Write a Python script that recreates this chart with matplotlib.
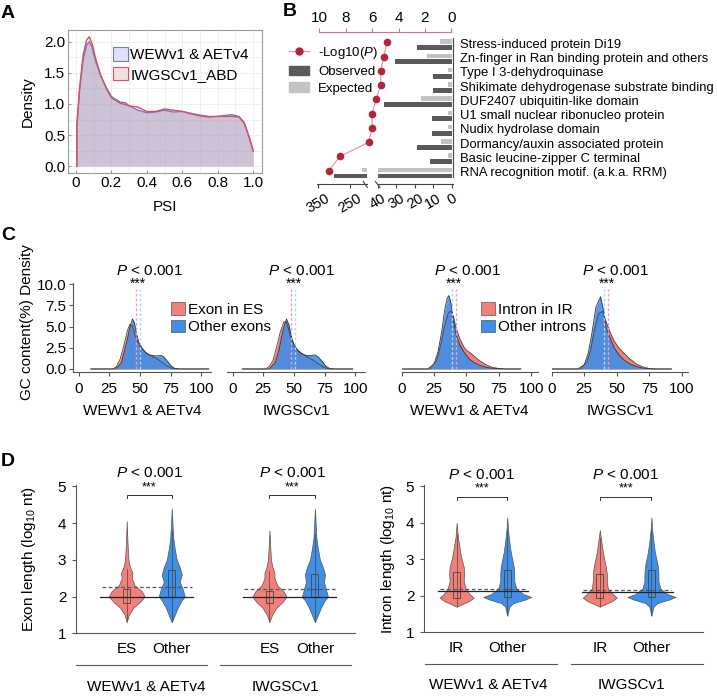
import numpy as np
import matplotlib
matplotlib.use('Agg')
import matplotlib.pyplot as plt
from matplotlib.patches import Patch, Rectangle
from matplotlib.lines import Line2D

plt.rcParams['font.family'] = ['Liberation Sans', 'DejaVu Sans']
plt.rcParams['mathtext.fontset'] = 'custom'
plt.rcParams['mathtext.rm'] = 'Liberation Sans'
plt.rcParams['mathtext.it'] = 'Liberation Sans:italic'

W, H = 717, 697

# ---- A: PSI density
psi_x = [0.005, 0.02, 0.04, 0.06, 0.075, 0.09, 0.11, 0.14, 0.17, 0.2, 0.25, 0.28, 0.3, 0.35, 0.4,
         0.45, 0.5, 0.55, 0.6, 0.65, 0.7, 0.75, 0.8, 0.85, 0.88, 0.92, 0.95, 0.98, 1.0]
psi_wew = [0.65, 1.2, 1.7, 1.95, 2.0, 1.92, 1.7, 1.45, 1.27, 1.12, 1.03, 1.02, 0.97, 0.9, 0.86,
           0.87, 0.9, 0.87, 0.88, 0.85, 0.82, 0.8, 0.8, 0.82, 0.83, 0.8, 0.7, 0.45, 0.25]
psi_iwgsc = [0.65, 1.25, 1.78, 2.03, 2.08, 1.98, 1.74, 1.46, 1.26, 1.1, 1.01, 0.99, 0.97, 0.95, 0.88,
             0.88, 0.92, 0.9, 0.88, 0.84, 0.81, 0.79, 0.8, 0.8, 0.8, 0.79, 0.69, 0.44, 0.24]

# ---- B: domain enrichment
domains = ['Stress-induced protein Di19', 'Zn-finger in Ran binding protein and others',
           'Type I 3-dehydroquinase', 'Shikimate dehydrogenase substrate binding',
           'DUF2407 ubiquitin-like domain', 'U1 small nuclear ribonucleo protein',
           'Nudix hydrolase domain', 'Dormancy/auxin associated protein',
           'Basic leucine-zipper C terminal', 'RNA recognition motif. (a.k.a. RRM)']
log_p = [4.9, 5.1, 5.35, 5.35, 5.7, 6.0, 6.0, 6.26, 8.43, 9.3]
observed = [18.6, 31, 10, 10, 37, 10.9, 10.9, 19, 11.8, 300]
expected = [6.6, 13.6, 2, 2, 16.8, 2, 2, 5.7, 2, 213]

# ---- C: GC content densities
c1_x_es = [10, 28, 31, 34, 37, 40, 42, 44, 46, 48, 50, 53, 56, 60, 64, 68, 72, 76, 80, 106]
c1_y_es = [0, 0, 0.3, 1.2, 2.8, 4.6, 5.3, 5.0, 4.0, 3.2, 2.7, 2.2, 1.8, 1.5, 1.2, 0.8, 0.35, 0.1, 0, 0]
c1_x_oth = [10, 30, 35, 38, 40, 42, 44, 45.5, 47, 49, 52, 55, 58, 62, 65, 67, 69, 72, 75, 78, 82, 106]
c1_y_oth = [0, 0, 0.7, 2.5, 3.6, 5.0, 5.9, 5.5, 4.3, 3.2, 2.4, 1.9, 1.65, 1.55, 1.55, 1.6, 1.5, 1.0, 0.45, 0.1, 0, 0]
c2_x_es = [8, 27, 30, 33, 36, 39, 42, 44, 46, 48, 51, 55, 60, 65, 70, 75, 79, 98]
c2_y_es = [0, 0, 0.3, 1.0, 2.6, 4.4, 5.6, 5.5, 4.5, 3.4, 2.6, 2.0, 1.5, 1.1, 0.6, 0.15, 0, 0]
c2_x_oth = [8, 30, 35, 38, 41, 44, 46, 48, 50, 53, 56, 60, 64, 67, 70, 73, 76, 79, 83, 98]
c2_y_oth = [0, 0, 0.8, 2.3, 4.5, 5.9, 5.2, 3.8, 2.9, 2.2, 1.8, 1.6, 1.6, 1.65, 1.4, 0.9, 0.35, 0.08, 0, 0]
c3_x_ir = [0, 22, 27, 30, 33, 36, 38, 40, 42, 45, 48, 50, 53, 56, 60, 65, 70, 75, 80, 92]
c3_y_ir = [0, 0, 1.0, 2.8, 5.0, 6.6, 6.9, 6.2, 4.8, 3.5, 2.6, 2.2, 1.9, 1.5, 1.0, 0.5, 0.2, 0.06, 0, 0]
c3_x_oth = [0, 20, 25, 28, 31, 33, 35, 36.5, 38, 40, 42, 45, 48, 52, 56, 60, 65, 70, 80, 92]
c3_y_oth = [0, 0, 0.6, 2.0, 4.5, 6.8, 8.3, 8.66, 7.8, 5.6, 4.0, 2.8, 2.0, 1.2, 0.75, 0.45, 0.2, 0.08, 0, 0]
c4_x_ir = [0, 22, 27, 30, 33, 36, 39, 42, 45, 48, 52, 56, 60, 65, 70, 75, 80, 92]
c4_y_ir = [0, 0, 0.8, 2.3, 4.7, 6.5, 6.8, 5.5, 4.3, 3.3, 2.4, 1.8, 1.2, 0.6, 0.25, 0.05, 0, 0]
c4_x_oth = [0, 20, 25, 28, 31, 34, 37.5, 40, 42, 45, 48, 52, 56, 60, 65, 70, 78, 92]
c4_y_oth = [0, 0, 0.5, 1.8, 4.3, 7.3, 8.5, 6.8, 4.8, 3.6, 2.5, 1.6, 1.0, 0.6, 0.3, 0.1, 0, 0]
c_means = [(46.5, 50.5), (47.5, 51), (42, 38.5), (43.5, 40)]  # (red, blue)

# ---- D: violin outlines (value, half width in px) and box stats
ex_es1_v = [1.3, 1.5, 1.7, 1.85, 2.0, 2.15, 2.3, 2.5, 2.65, 2.8, 3.0, 3.5, 4.05]
ex_es1_w = [0, 2, 6.7, 13, 18, 15, 8, 5, 5.7, 3.3, 1.7, 0.7, 0]
ex_ot1_v = [1.3, 1.5, 1.7, 1.9, 2.0, 2.2, 2.4, 2.6, 2.8, 3.0, 3.3, 3.6, 4.0, 4.4]
ex_ot1_w = [0, 3, 6, 10, 13, 11, 8, 10, 8, 5, 3, 1.5, 0.7, 0]
ex_es2_v = [1.3, 1.5, 1.7, 1.85, 2.0, 2.15, 2.3, 2.5, 2.65, 2.8, 3.0, 3.4, 3.8]
ex_es2_w = [0, 2.5, 7, 13, 17, 14, 8, 5, 5, 3, 1.5, 0.7, 0]
ex_ot2_v = [1.3, 1.5, 1.7, 1.9, 2.0, 2.2, 2.4, 2.6, 2.8, 3.0, 3.3, 3.6, 4.0, 4.4]
ex_ot2_w = [0, 3, 6, 10, 13, 11, 9, 10, 8, 5, 3, 1.5, 0.7, 0]
in_ir1_v = [1.7, 1.78, 1.85, 1.95, 2.05, 2.2, 2.4, 2.6, 2.8, 3.0, 3.2, 3.4, 3.6, 3.8, 4.0]
in_ir1_w = [0, 6, 12, 17, 13, 9, 7, 7.5, 7, 5, 3.5, 2.5, 1.2, 0.6, 0]
in_ot1_v = [1.45, 1.7, 1.8, 1.9, 1.97, 2.05, 2.2, 2.4, 2.6, 2.8, 3.0, 3.2, 3.5, 3.8, 4.15]
in_ot1_w = [0, 2, 6, 18, 24, 16, 9, 7, 7, 6.5, 5, 3.5, 2, 0.8, 0]
in_ir2_v = [1.7, 1.78, 1.85, 1.95, 2.05, 2.2, 2.4, 2.6, 2.8, 3.0, 3.2, 3.4, 3.6, 3.8]
in_ir2_w = [0, 6, 12, 17, 13, 8, 7, 7, 6, 4.5, 3, 2, 1, 0]
in_ot2_v = in_ot1_v
in_ot2_w = [0, 2, 6, 18, 24, 16, 9, 7, 7, 6.5, 5, 3.5, 2, 0.8, 0]
# q1, median, q3, whisker low, whisker high
ex_box = [(1.83, 2.0, 2.2, 1.35, 2.75), (2.0, 2.27, 2.73, 1.35, 3.8),
          (1.82, 2.0, 2.15, 1.35, 2.7), (2.0, 2.22, 2.62, 1.35, 3.7)]
in_box = [(1.95, 2.12, 2.65, 1.72, 3.7), (1.98, 2.18, 2.72, 1.47, 3.8),
          (1.95, 2.1, 2.6, 1.72, 3.6), (1.98, 2.16, 2.72, 1.47, 3.8)]
ex_lines = [(2.0, 2.27), (2.0, 2.22)]   # solid, dashed
in_lines = [(2.12, 2.18), (2.1, 2.16)]

RED = '#f28078'
BLUE = '#3f8fe8'

fig = plt.figure(figsize=(W / 100, H / 100), dpi=100)


def add_ax(l, t, r, b):
    return fig.add_axes([l / W, 1 - b / H, (r - l) / W, (b - t) / H])


for lab, (px, py) in zip('ABCD', [(8, 14), (290, 12), (8, 235), (8, 462)]):
    fig.text(px / W, 1 - py / H, lab, fontsize=14, fontweight='bold', ha='center', va='center')

# ================= A
ax = add_ax(68, 30, 262, 173)
ax.fill_between(psi_x, psi_wew, color='#9aa2cf', alpha=0.5, lw=0)
ax.fill_between(psi_x, psi_iwgsc, color='#d894a4', alpha=0.22, lw=0)
ax.plot([psi_x[0]] + psi_x, [0] + psi_wew, color='#6b80c4', lw=1)
ax.plot([psi_x[0]] + psi_x, [0] + psi_iwgsc, color='#d8505c', lw=1)
ax.set_xlim(-0.045, 1.05)
ax.set_ylim(-0.11, 2.19)
ax.set_xticks([0, 0.2, 0.4, 0.6, 0.8, 1.0])
ax.set_xticklabels(['0', '0.2', '0.4', '0.6', '0.8', '1.0'])
ax.set_yticks([0, 0.5, 1.0, 1.5, 2.0])
ax.set_yticklabels(['0.0', '0.5', '1.0', '1.5', '2.0'])
ax.set_xticks(np.arange(0.1, 1.0, 0.2), minor=True)
ax.set_yticks([0.25, 0.75, 1.25, 1.75], minor=True)
ax.grid(which='both', color='#ececec', lw=0.6)
ax.set_axisbelow(True)
for s in ax.spines.values():
    s.set_color('#9a9a9a')
ax.tick_params(which='both', direction='in', length=2, color='#9a9a9a', labelsize=11, pad=2)
ax.tick_params(which='minor', length=0)
ax.set_xlabel('PSI', fontsize=11)
ax.set_ylabel('Density', fontsize=11)
ax.xaxis.set_label_coords(0.5, -0.235)
ax.yaxis.set_label_coords(-0.21, 0.5)
ax.xaxis.label.set_va('center')
ax.yaxis.label.set_va('center')
ax.legend([Patch(fc='#dde3f5', ec='#6b80c4', lw=0.8), Patch(fc='#f6dfe3', ec='#d8505c', lw=0.8)],
          ['WEWv1 & AETv4', 'IWGSCv1_ABD'], loc='upper left', bbox_to_anchor=(0.23, 0.88),
          frameon=False, fontsize=11, handlelength=1.0, handleheight=1.0, handletextpad=0.15,
          labelspacing=0.3, borderpad=0, borderaxespad=0)

# ================= B
yy = np.arange(len(domains))
ylim_b = (9.86, -0.77)
ax_l = add_ax(317.3, 32.3, 366.7, 184)
ax_r = add_ax(378, 32.3, 453, 184)
for a in (ax_l, ax_r):
    a.barh(yy - 0.12, expected, height=0.32, color='#c3c3c3')
    a.barh(yy + 0.3, observed, height=0.34, color='#5a5a5a')
    a.set_ylim(*ylim_b)
    a.patch.set_visible(False)
    a.spines['top'].set_visible(False)
    a.spines['left'].set_visible(False)
    for s in a.spines.values():
        s.set_color('#444')
        s.set_linewidth(0.8)
    a.tick_params(axis='x', length=3, labelsize=10.5, pad=2, color='#444')
ax_l.set_xlim(353, 197)
ax_r.set_xlim(40, -0.7)
ax_l.spines['right'].set_visible(False)
ax_l.set_yticks([])
ax_l.set_xticks([350, 250])
ax_r.set_xticks([40, 30, 20, 10, 0])
for a in (ax_l, ax_r):
    for t in a.get_xticklabels():
        t.set_rotation(30)
        t.set_ha('center')
ax_r.spines['right'].set_bounds(-0.37, 9.37)
ax_r.yaxis.tick_right()
ax_r.set_yticks(yy)
ax_r.set_yticklabels(domains, fontsize=9.4)
ax_r.tick_params(axis='y', length=0, pad=5)
for (x0, x1) in [(363.3, 367.3), (375.5, 380)]:
    fig.add_artist(Line2D([x0 / W, x1 / W], [1 - 181.5 / H, 1 - 187.5 / H], color='#444', lw=0.8))

ax_p = add_ax(316.7, 32.3, 453, 184)
ax_p.patch.set_visible(False)
ax_p.plot(log_p, yy - 0.07, '-o', color='#e3909b', mfc='#b1263b', mec='#b1263b', ms=4.5, lw=0.8)
ax_p.set_xlim(10.2, -0.13)
ax_p.set_ylim(*ylim_b)
for k in ('left', 'right', 'bottom'):
    ax_p.spines[k].set_visible(False)
ax_p.spines['top'].set_color('#d9707f')
ax_p.spines['top'].set_bounds(0, 10)
ax_p.xaxis.tick_top()
ax_p.set_xticks([10, 8, 6, 4, 2, 0])
ax_p.set_yticks([])
ax_p.tick_params(axis='x', color='#d9707f', length=3, labelsize=11, pad=2)
fig.legend([Line2D([], [], color='#e3909b', marker='o', mfc='#b1263b', mec='#b1263b', ms=5, lw=0.8),
            Patch(color='#5a5a5a'), Patch(color='#c3c3c3')],
           ['-Log10($P$)', 'Observed', 'Expected'], loc='upper left',
           bbox_to_anchor=(289 / W, 1 - 45 / H), frameon=False, fontsize=9.5, handlelength=1.5,
           handletextpad=0.7, labelspacing=0.35, borderpad=0, borderaxespad=0)

# ================= C
c_axes = [(73, 211, (-4.5, 108)), (227, 365, (-4.5, 108)), (401.7, 537.7, (0, 105)), (551.7, 688.3, (0, 105))]
c_curves = [(c1_x_es, c1_y_es, c1_x_oth, c1_y_oth), (c2_x_es, c2_y_es, c2_x_oth, c2_y_oth),
            (c3_x_ir, c3_y_ir, c3_x_oth, c3_y_oth), (c4_x_ir, c4_y_ir, c4_x_oth, c4_y_oth)]
c_text = [(58, 48), (56, 50), (51, 40), (49, 42.5)]
c_titles = ['WEWv1 & AETv4', 'IWGSCv1', 'WEWv1 & AETv4', 'IWGSCv1']
for i, ((l, r, xl), (xr, yr, xb, yb), (mr, mb), (tp, ts)) in enumerate(zip(c_axes, c_curves, c_means, c_text)):
    ax = add_ax(l, 283.3, r, 371.7)
    ax.fill_between(xr, yr, color=RED, lw=0)
    ax.plot(xr, yr, color='#444', lw=0.6)
    ax.fill_between(xb, yb, color=BLUE, alpha=0.9, lw=0)
    ax.plot(xb, yb, color='#333', lw=0.6)
    ax.plot([mr, mr], [0, 9.4], color='#f59ac0', lw=1, ls=(0, (2, 1.5)))
    ax.plot([mb, mb], [0, 9.4], color='#a8d8ff', lw=1, ls=(0, (2, 1.5)))
    ax.set_xlim(*xl)
    ax.set_ylim(-0.32, 10.1)
    ax.set_xticks([0, 25, 50, 75, 100])
    ax.text(tp, 11.5, '$P$ < 0.001', fontsize=11, ha='center', va='center')
    ax.text(ts, 10.0, '***', fontsize=10, ha='center', va='center')
    ax.spines['top'].set_visible(False)
    ax.spines['right'].set_visible(False)
    for s in ax.spines.values():
        s.set_color('#555')
    ax.tick_params(length=3, color='#555', labelsize=11, pad=4.5)
    ax.tick_params(axis='y', pad=1.5)
    ax.set_xlabel(c_titles[i], fontsize=11)
    ax.xaxis.set_label_coords(0.5, -0.45)
    ax.xaxis.label.set_va('center')
    if i == 0:
        ax.set_yticks([0, 2.5, 5, 7.5, 10])
        ax.set_yticklabels(['0.0', '2.5', '5.0', '7.5', '10.0'])
        ax.set_ylabel('GC content(%) Density', fontsize=11)
        ax.yaxis.set_label_coords(-0.335, 0.56)
        ax.yaxis.label.set_va('center')
    else:
        ax.spines['left'].set_visible(False)
        ax.set_yticks([])
for labels, xpos in [(['Exon in ES', 'Other exons'], 171), (['Intron in IR', 'Other introns'], 481)]:
    fig.legend([Patch(fc=RED, ec='#555', lw=0.5), Patch(fc=BLUE, ec='#555', lw=0.5)], labels,
               loc='upper left', bbox_to_anchor=(xpos / W, 1 - 302 / H), frameon=False, fontsize=11,
               handlelength=0.9, handleheight=0.9, handletextpad=0.2, labelspacing=0.2,
               borderpad=0, borderaxespad=0)

# ================= D
d_specs = [
    dict(box=(76, 485, 355, 633.3), pos=[0, 1, 3.17, 4.18], ppu=45.0, xlim=(-1.127, 5.07),
         prof=[(ex_es1_v, ex_es1_w), (ex_ot1_v, ex_ot1_w), (ex_es2_v, ex_es2_w), (ex_ot2_v, ex_ot2_w)],
         box_stats=ex_box, lines=ex_lines, ext=(-0.59, 0.47), cats=['ES', 'Other', 'ES', 'Other'],
         groups=[(-1.127, 1.79, 0.44), (2.07, 4.98, 3.52)], ylab='Exon length (log$_{10}$ nt)',
         ylab_x=-0.168, brk=4.77, star=4.97, ptxt=5.36),
    dict(box=(424, 485, 703, 632.3), pos=[0, 1, 2.83, 3.85], ppu=50.6, xlim=(-0.646, 4.87),
         prof=[(in_ir1_v, in_ir1_w), (in_ot1_v, in_ot1_w), (in_ir2_v, in_ir2_w), (in_ot2_v, in_ot2_w)],
         box_stats=in_box, lines=in_lines, ext=(-0.36, 0.42), cats=['IR', 'Other', 'IR', 'Other'],
         groups=[(-0.626, 1.98, 0.62), (2.26, 4.87, 3.46)], ylab='Intron length (log$_{10}$ nt)',
         ylab_x=-0.13, brk=4.71, star=4.94, ptxt=5.32),
]
for sp in d_specs:
    ax = add_ax(*sp['box'])
    pos = sp['pos']
    for j, ((pv, pw), (q1, med, q3, wlo, whi)) in enumerate(zip(sp['prof'], sp['box_stats'])):
        hw = np.array(pw) / sp['ppu']
        ax.fill_betweenx(pv, pos[j] - hw, pos[j] + hw, fc=RED if j % 2 == 0 else BLUE,
                         ec='#555', lw=0.5, zorder=2)
        ax.plot([pos[j], pos[j]], [wlo, whi], color='#444', lw=0.5, zorder=3)
        bw = 7 / sp['ppu']
        ax.add_patch(Rectangle((pos[j] - bw / 2, q1), bw, q3 - q1, fill=False, ec='#444', lw=0.6, zorder=3))
        ax.plot([pos[j] - bw / 2, pos[j] + bw / 2], [med, med], color='#444', lw=0.6, zorder=3)
    for g, (solid, dashed) in enumerate(sp['lines']):
        a, b = pos[2 * g], pos[2 * g + 1]
        ax.plot([a + sp['ext'][0], b + sp['ext'][1]], [solid, solid], color='#222', lw=0.9, zorder=4)
        ax.plot([a + sp['ext'][0] + 0.03, b + sp['ext'][1] - 0.03], [dashed, dashed], color='#555',
                lw=0.9, ls=(0, (3, 2)), zorder=4)
        ax.plot([a, a, b, b], [sp['brk'] - 0.08, sp['brk'], sp['brk'], sp['brk'] - 0.08],
                color='#333', lw=0.7, clip_on=False)
        ax.text((a + b) / 2, sp['star'], '***', fontsize=9, ha='center', va='center')
        ax.text((a + b) / 2, sp['ptxt'], '$P$ < 0.001', fontsize=11, ha='center', va='center')
    ax.set_xlim(*sp['xlim'])
    ax.set_ylim(1, 5.04)
    ax.set_yticks([1, 2, 3, 4, 5])
    ax.set_xticks(pos)
    ax.set_xticklabels(sp['cats'])
    ax.spines['top'].set_visible(False)
    ax.spines['right'].set_visible(False)
    for s in ax.spines.values():
        s.set_color('#555')
    ax.tick_params(axis='y', length=3, color='#555', labelsize=11, pad=4)
    ax.tick_params(axis='x', length=0, labelsize=11, pad=6)
    tr = ax.get_xaxis_transform()
    for (x0, x1, xc), name in zip(sp['groups'], ['WEWv1 & AETv4', 'IWGSCv1']):
        ax.plot([x0, x1], [-0.214, -0.214], color='#555', lw=0.8, transform=tr, clip_on=False)
        ax.text(xc, -0.36, name, fontsize=11, ha='center', va='center', transform=tr)
    ax.set_ylabel(sp['ylab'], fontsize=11)
    ax.yaxis.set_label_coords(sp['ylab_x'], 0.5)
    ax.yaxis.label.set_va('center')

fig.savefig('out.png', dpi=100)
plt.close('all')
